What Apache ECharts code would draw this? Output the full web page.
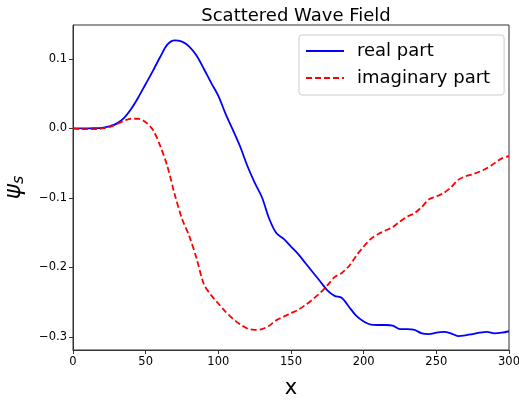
<!DOCTYPE html>
<html>
<head>
<meta charset="utf-8">
<script src="https://cdn.jsdelivr.net/npm/echarts@6/dist/echarts.min.js"></script>
<style>html,body{margin:0;padding:0;background:#fff}#c{width:519px;height:402px}</style>
</head>
<body>
<div id="c"></div>
<script>
const xValues = [0,5,10,15,20,25,30,35,40,45,50,55,60,65,70,75,80,85,90,95,100,105,110,115,120,125,130,135,140,145,150,155,160,165,170,175,180,185,190,195,200,205,210,215,220,225,230,235,240,245,250,255,260,265,270,275,280,285,290,295,300];
const realPart = [0,0,0,0.0005,0.001,0.003,0.007,0.015,0.028,0.045,0.064,0.083,0.103,0.121,0.127,0.125,0.118,0.105,0.086,0.066,0.047,0.021,-0.002,-0.026,-0.054,-0.078,-0.099,-0.130,-0.151,-0.159,-0.170,-0.181,-0.194,-0.207,-0.220,-0.233,-0.241,-0.244,-0.257,-0.270,-0.278,-0.2825,-0.283,-0.283,-0.284,-0.289,-0.289,-0.290,-0.295,-0.296,-0.294,-0.293,-0.295,-0.299,-0.298,-0.296,-0.294,-0.293,-0.295,-0.294,-0.292];
const imagPart = [0,-0.001,-0.001,-0.001,0,0.002,0.006,0.011,0.014,0.014,0.009,-0.002,-0.025,-0.055,-0.095,-0.130,-0.155,-0.187,-0.224,-0.240,-0.252,-0.264,-0.274,-0.282,-0.288,-0.290,-0.289,-0.284,-0.276,-0.271,-0.266,-0.261,-0.254,-0.246,-0.237,-0.226,-0.214,-0.208,-0.198,-0.183,-0.170,-0.159,-0.152,-0.147,-0.142,-0.134,-0.127,-0.122,-0.113,-0.102,-0.098,-0.093,-0.085,-0.074,-0.069,-0.066,-0.062,-0.057,-0.050,-0.043,-0.040];
const yTicks = [-0.3,-0.2,-0.1,0.0,0.1];
const xTicks = [0,50,100,150,200,250,300];
const seriesNames = ['real part','imaginary part'];

const font = 'DejaVu Sans';
const chart = echarts.init(document.getElementById('c'), null, {renderer:'canvas'});
const pair = arr => xValues.map((x,i)=>[x, arr[i]]);
chart.setOption({
  animation:false,
  title:{text:'Scattered Wave Field', left:291, textAlign:'center', top:2, textStyle:{fontFamily:font, fontWeight:'normal', fontSize:18, color:'#000'}},
  grid:{left:73, right:10, top:25, bottom:52, containLabel:false, outerBoundsMode:'none', show:true, borderColor:'#333', borderWidth:1, backgroundColor:'transparent'},
  legend:{
    orient:'vertical', left:299, top:35,
    backgroundColor:'#fff', borderColor:'#ccc', borderWidth:1, borderRadius:3,
    padding:[7,14,8,6], itemGap:9, itemWidth:38, itemHeight:18,
    itemStyle:{opacity:0},
    textStyle:{fontFamily:font, fontSize:18, color:'#000', padding:[0,0,0,8]},
    data:seriesNames
  },
  xAxis:{
    type:'value', min:0, max:300, interval:50,
    name:'x', nameLocation:'middle', nameGap:28,
    nameTextStyle:{fontFamily:font, fontSize:21, color:'#000'},
    axisLine:{show:true, onZero:false, lineStyle:{color:'#333'}},
    axisTick:{show:true, length:4, lineStyle:{color:'#333'}},
    axisLabel:{fontFamily:font, fontSize:11.5, color:'#000', margin:6,
      customValues:xTicks, formatter:v=>String(v)},
    splitLine:{show:false}
  },
  yAxis:{
    type:'value', min:-0.319, max:0.149,
    name:'{a|ψ}{b|s}', nameLocation:'middle', nameGap:46, nameRotate:90,
    nameTextStyle:{rich:{a:{fontFamily:font, fontStyle:'italic', fontSize:23, color:'#000'}, b:{fontFamily:font, fontStyle:'italic', fontSize:16, color:'#000', padding:[10,0,0,0]}}},
    axisLine:{show:true, onZero:false, lineStyle:{color:'#333'}},
    axisTick:{show:true, length:4, customValues:yTicks, lineStyle:{color:'#333'}},
    axisLabel:{fontFamily:font, fontSize:11.5, color:'#000', margin:6, customValues:yTicks,
      formatter:v=>v.toFixed(1).replace('-','\u2212').replace('\u22120.0','0.0')},
    splitLine:{show:false}
  },
  series:[
    {name:seriesNames[0], type:'line', data:pair(realPart), smooth:0.3, symbol:'none',
      lineStyle:{color:'#0000ff', width:1.8}, itemStyle:{color:'#0000ff'}},
    {name:seriesNames[1], type:'line', data:pair(imagPart), smooth:0.3, symbol:'none',
      lineStyle:{color:'#ff0000', width:1.8, type:[6,3]}, itemStyle:{color:'#ff0000'}}
  ]
});
</script>
</body>
</html>
